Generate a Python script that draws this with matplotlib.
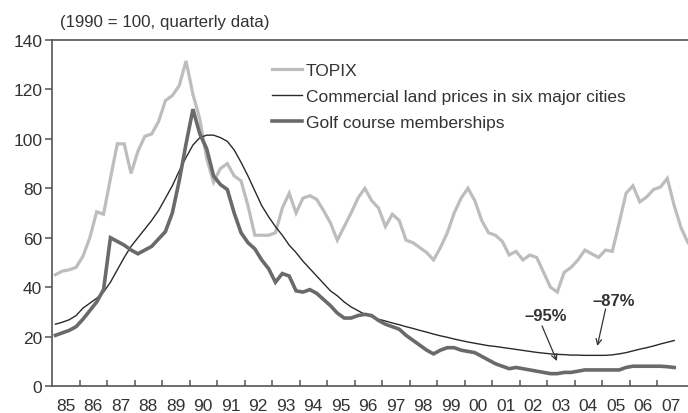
import numpy as np
import matplotlib
matplotlib.use("Agg")
import matplotlib.pyplot as plt

# ---- data (quarterly, 1990 = 100) ----
start_year = 1985
topix = [45, 46.5, 47, 48,
         52.5, 60, 70.5, 69.5,
         84, 98, 98, 86,
         95, 101, 102, 107,
         115.5, 117.5, 121.5, 131.5,
         118, 108, 92, 82.5,
         88, 90, 85, 83,
         73, 61, 61, 61,
         62, 72, 78, 70,
         76, 77, 75.5, 71,
         66, 59, 64.5, 70,
         76, 80, 75, 72,
         64.5, 69.5, 67, 59,
         58, 56, 54, 51,
         56, 62, 70, 76,
         80, 75, 67, 62,
         61, 58.5, 53, 54.5,
         51, 53, 52, 46,
         40, 38, 46, 48,
         51, 55, 53.5, 52,
         55, 54.5, 66, 78,
         81, 74.5, 76.5, 79.5,
         80.5, 84, 73, 64,
         58]
land = [25, 25.8, 26.8, 28.5,
        31.5, 33.5, 35.5, 38,
        42, 47, 52, 56.5,
        60, 63.5, 67, 71,
        76, 81, 87, 92.5,
        97.5, 100.5, 101.5, 101.5,
        100.5, 99, 95.5, 90.5,
        85, 79, 73, 68.5,
        64.5, 61, 57, 54,
        50.5, 47.5, 44.5, 41.5,
        38.5, 36.5, 34, 32,
        30.5, 29, 28, 27,
        26.3, 25.5, 24.8, 24,
        23.3, 22.5, 21.8, 21,
        20.3, 19.7, 19, 18.4,
        17.8, 17.3, 16.8, 16.3,
        16, 15.6, 15.2, 14.8,
        14.4, 14, 13.6, 13.3,
        13, 12.8, 12.7, 12.5,
        12.5, 12.4, 12.4, 12.4,
        12.4, 12.6, 13, 13.5,
        14.2, 14.9, 15.5, 16.2,
        17, 17.7, 18.4]
golf = [20.5, 21.5, 22.5, 24,
        27, 30.5, 34, 39,
        60, 58.5, 57, 55,
        53.5, 55, 56.5, 59.5,
        62.5, 70, 83, 98,
        112, 102, 96, 85,
        81.5, 79.5, 70, 62,
        58, 55.5, 51, 47.5,
        42, 45.5, 44.5, 38.5,
        38, 39, 37.5, 35,
        32.5, 29.5, 27.5, 27.5,
        28.5, 29, 28.5, 26.5,
        25, 24, 23, 20.5,
        18.5, 16.5, 14.5, 13,
        14.5, 15.5, 15.5, 14.5,
        14, 13.5, 12, 10.5,
        9, 8, 7, 7.5,
        7, 6.5, 6, 5.5,
        5, 5, 5.5, 5.5,
        6, 6.5, 6.5, 6.5,
        6.5, 6.5, 6.5, 7.5,
        8, 8, 8, 8,
        8, 7.8, 7.5]
year_labels = ["85", "86", "87", "88", "89", "90", "91", "92", "93", "94", "95", "96",
               "97", "98", "99", "00", "01", "02", "03", "04", "05", "06", "07"]
yticks = [0, 20, 40, 60, 80, 100, 120, 140]
labels = ["TOPIX", "Commercial land prices in six major cities", "Golf course memberships"]
title = "(1990 = 100, quarterly data)"
ann_95 = "\u201395%"
ann_87 = "\u201387%"


def qx(n):
    return start_year + (np.arange(n) + 0.5) / 4.0


plt.rcParams['font.family'] = ['Liberation Sans', 'DejaVu Sans']
fig = plt.figure(figsize=(6.88, 4.14), dpi=100)
ax = fig.add_axes([52 / 688, 1 - 387 / 414, 1 - 52 / 688, (387 - 41) / 414])

c_topix = "#bdbdbb"
c_land = "#2a2a2a"
c_golf = "#6a6a6a"
c_axis = "#555555"
c_text = "#333333"

ax.plot(qx(len(topix)), topix, color=c_topix, lw=2.3, label=labels[0], solid_joinstyle='miter')
ax.plot(qx(len(land)), land, color=c_land, lw=1.0, label=labels[1])
ax.plot(qx(len(golf)), golf, color=c_golf, lw=2.6, label=labels[2], solid_joinstyle='miter')

ax.set_xlim(start_year, start_year + 636 / 27.5)
ax.set_ylim(0, 140)

ax.spines['right'].set_visible(False)
for s in ['left', 'bottom', 'top']:
    ax.spines[s].set_color(c_axis)
    ax.spines[s].set_linewidth(1.2)

ax.set_yticks(yticks)
ax.set_yticklabels([str(v) for v in yticks])
ax.tick_params(axis='y', direction='out', length=5, width=1.1, color=c_axis,
               labelsize=12.5, labelcolor=c_text, pad=2)

n_years = len(year_labels)
ax.set_xticks(start_year + np.arange(1, n_years))
ax.set_xticklabels([])
ax.set_xticks(start_year + np.arange(n_years) + 0.5, minor=True)
ax.set_xticklabels(year_labels, minor=True)
ax.tick_params(axis='x', which='major', direction='in', length=4, width=1.1, color=c_axis)
ax.tick_params(axis='x', which='minor', length=0, labelsize=12.5, labelcolor=c_text, pad=9)

fig.text(60 / 688, 1 - 22 / 414, title, fontsize=12.2, color=c_text, ha='left', va='center')

leg = ax.legend(loc='upper left', bbox_to_anchor=((272 - 52) / 636, 1 - (64 - 41) / 346),
                frameon=False, fontsize=12.5, handlelength=1.75, handletextpad=0.2,
                labelspacing=0.62, borderaxespad=0, borderpad=0)
for t in leg.get_texts():
    t.set_color(c_text)

# annotations
ax.text(2002.96, 28.7, ann_95, fontsize=12, fontweight='bold', color=c_text, ha='center', va='center')
ax.annotate('', xy=(2003.36, 10.1), xytext=(2002.82, 24.3),
            arrowprops=dict(arrowstyle='->', lw=0.9, color=c_text, shrinkA=0, shrinkB=0))
ax.text(2005.44, 34.4, ann_87, fontsize=12, fontweight='bold', color=c_text, ha='center', va='center')
ax.annotate('', xy=(2004.83, 16.2), xytext=(2005.13, 31.2),
            arrowprops=dict(arrowstyle='->', lw=0.9, color=c_text, shrinkA=0, shrinkB=0))

fig.savefig("out.png", dpi=100)
